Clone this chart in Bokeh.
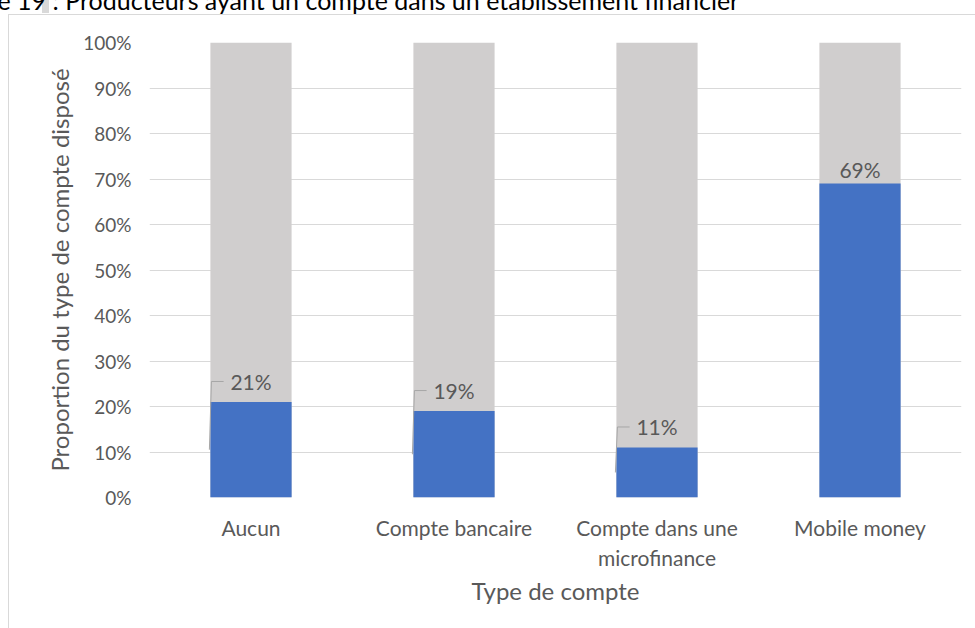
from bokeh.plotting import figure
from bokeh.models import ColumnDataSource, FactorRange, NumeralTickFormatter, FixedTicker
from bokeh.transform import dodge
from bokeh.core.properties import value
from bokeh.embed import file_html
from bokeh.resources import INLINE

# Share of producers holding each type of account (%)
categories = ["Aucun", "Compte bancaire", "Compte dans une\nmicrofinance", "Mobile money"]
share = [21, 19, 11, 69]
y_ticks = [0, 10, 20, 30, 40, 50, 60, 70, 80, 90, 100]
caption = "e 19 : Producteurs ayant un compte dans un établissement financier"

FONT = "Lato"
TEXT = "#595959"
BLUE = "#4472C4"
GREY = "#D0CECE"
EDGE = "#D9D9D9"
BAR_W = 0.4

SHIFT = 50                      # canvas rows hidden above the page top
W, H = 975, 628 + SHIFT
LEFT, RIGHT, TOP, BOTTOM = 149, 14, 42 + SHIFT, 131

p = figure(
    x_range=FactorRange(*categories, range_padding=0),
    y_range=(0, 100),
    width=W, height=H,
    output_backend="svg", toolbar_location=None,
    min_border_left=LEFT, min_border_right=RIGHT,
    min_border_top=TOP, min_border_bottom=BOTTOM,
    background_fill_color="white", border_fill_color=None,
)
p.outline_line_color = None

# Page styling: pull the canvas up and paint the chart-box border behind it
p.styles = {
    "margin-top": f"-{SHIFT}px",
    "background-color": "white",
    "background-image": (f"linear-gradient({EDGE}, {EDGE}), "
                         f"linear-gradient({EDGE}, {EDGE}), "
                         f"linear-gradient({EDGE}, {EDGE})"),
    "background-size": "1px 100%, 100% 1px, 7px 14px",
    "background-position": f"8px {14 + SHIFT}px, 8px {14 + SHIFT}px, 42px {SHIFT - 1}px",
    "background-repeat": "no-repeat",
}

# Caption line (its upper half sits above the visible page)
p.title.text = caption
p.title.text_font = FONT
p.title.text_font_size = "25px"
p.title.text_font_style = "normal"
p.title.text_color = "black"
p.title.align = "left"
p.title.offset = -152
p.title.standoff = 56

# 100% background column, then the actual share on top
src = ColumnDataSource(dict(
    cat=categories,
    share=share,
    full=[100] * len(categories),
))
p.vbar(x="cat", top="full", width=BAR_W, source=src, color=GREY, line_color=None)
p.vbar(x="cat", top="share", width=BAR_W, source=src, color=BLUE, line_color=None)

# Data labels: small shares get a label lifted above the bar with a leader line,
# large shares sit just above the bar top.
low = [i for i, v in enumerate(share) if v < 50]
high = [i for i, v in enumerate(share) if v >= 50]

lead = ColumnDataSource(dict(
    cat=[categories[i] for i in low],
    mid=[share[i] / 2 for i in low],
    ly=[share[i] + 4.5 for i in low],
    lab=[f"{share[i]}%" for i in low],
))
p.segment(x0=dodge("cat", -BAR_W / 2 - 0.005, range=p.x_range), y0="mid",
          x1=dodge("cat", -BAR_W / 2 + 0.005, range=p.x_range), y1="ly",
          source=lead, line_color="#A6A6A6", line_width=1)
p.segment(x0=dodge("cat", -BAR_W / 2 + 0.005, range=p.x_range), y0="ly",
          x1=dodge("cat", -BAR_W / 2 + 0.065, range=p.x_range), y1="ly",
          source=lead, line_color="#A6A6A6", line_width=1)
p.text(x="cat", y="ly", text="lab", source=lead, text_align="center",
       text_baseline="middle", text_font=value(FONT), text_font_size="21px",
       text_color=TEXT)

top = ColumnDataSource(dict(
    cat=[categories[i] for i in high],
    y=[share[i] + 0.3 for i in high],
    lab=[f"{share[i]}%" for i in high],
))
p.text(x="cat", y="y", text="lab", source=top, text_align="center",
       text_baseline="bottom", text_font=value(FONT), text_font_size="21px",
       text_color=TEXT)

# Axes
p.yaxis.ticker = FixedTicker(ticks=y_ticks)
p.yaxis.formatter = NumeralTickFormatter(format="0")
p.yaxis.major_label_overrides = {t: f"{t}%" for t in y_ticks}
p.yaxis.axis_label = "Proportion du type de compte disposé"
p.xaxis.axis_label = "Type de compte"
for ax in (p.xaxis, p.yaxis):
    ax.axis_line_color = None
    ax.major_tick_line_color = None
    ax.minor_tick_line_color = None
    ax.major_tick_out = 0
    ax.major_tick_in = 0
    ax.major_label_text_font = FONT
    ax.major_label_text_color = TEXT
    ax.axis_label_text_font = FONT
    ax.axis_label_text_font_size = "24px"
    ax.axis_label_text_font_style = "normal"
    ax.axis_label_text_color = TEXT
p.yaxis.major_label_text_font_size = "19px"
p.xaxis.major_label_text_font_size = "21px"
p.yaxis.major_label_standoff = 18
p.yaxis.axis_label_standoff = 6
p.xaxis.major_label_standoff = 17
p.xaxis.axis_label_standoff = 3

p.xgrid.grid_line_color = None
p.ygrid.grid_line_color = EDGE
p.ygrid.grid_line_width = 1

open("out.html", "w").write(file_html(p, INLINE))
